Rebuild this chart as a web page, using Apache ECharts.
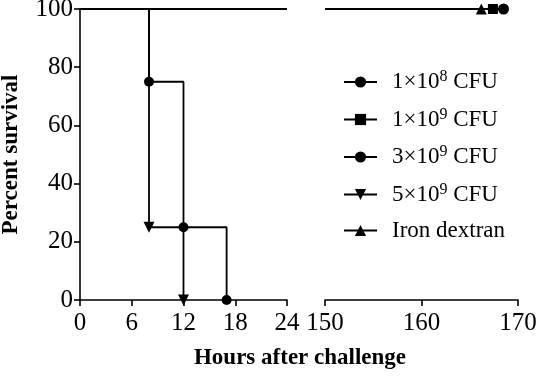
<!DOCTYPE html>
<html>
<head>
<meta charset="utf-8">
<script src="https://cdn.jsdelivr.net/npm/echarts@6/dist/echarts.min.js"></script>
<style>
  html, body { margin: 0; padding: 0; background: #fff; }
  #chart { width: 536px; height: 376px; }
</style>
</head>
<body>
<div id="chart"></div>
<script>
// survival data (hours, percent survival)
const names = ['1×10^8 CFU', '1×10^9 CFU', '3×10^9 CFU', '5×10^9 CFU', 'Iron dextran'];

const hours3e9 = [0, 8, 12, 17];
const surv3e9 = [100, 75, 25, 0];
const hours5e9 = [0, 8, 12];
const surv5e9 = [100, 25, 0];

// groups with no deaths: censored at the end of the observation
const endHours1e8 = 168.5;
const endHours1e9 = 167.4;
const endHoursIron = 166.2;

const xTicksEarly = [0, 24, 6];   // min, max, interval
const xTicksLate = [150, 170, 10];
const yTicks = [0, 100, 20];

const font = 'Liberation Serif, Times New Roman, serif';
const black = '#000';

function pts(xs, ys) {
  return xs.map((x, i) => i === 0 ? { value: [x, ys[i]], symbol: 'none' } : [x, ys[i]]);
}

function flatLine(name, grid, x0, x1, symbol, size, withMark) {
  return {
    name: name,
    type: 'line',
    xAxisIndex: grid,
    yAxisIndex: grid,
    symbol: symbol,
    symbolSize: size,
    clip: false,
    lineStyle: { color: black, width: 1.8 },
    itemStyle: { color: black },
    data: [{ value: [x0, 100], symbol: 'none' }, withMark ? [x1, 100] : { value: [x1, 100], symbol: 'none' }]
  };
}

const chart = echarts.init(document.getElementById('chart'));

const axisLabel = { color: black, fontFamily: font, fontSize: 25 };

chart.setOption({
  animation: false,
  backgroundColor: '#fff',
  grid: [
    { left: 80, top: 9, width: 207, height: 291, outerBoundsMode: 'none', containLabel: false },
    { left: 325, top: 9, width: 193, height: 291, outerBoundsMode: 'none', containLabel: false }
  ],
  xAxis: [
    {
      gridIndex: 0, type: 'value',
      min: xTicksEarly[0], max: xTicksEarly[1], interval: xTicksEarly[2],
      axisLine: { lineStyle: { color: black, width: 1.6 } },
      axisTick: { length: 6, lineStyle: { color: black, width: 1.6 } },
      splitLine: { show: false },
      axisLabel: Object.assign({ margin: 11 }, axisLabel)
    },
    {
      gridIndex: 1, type: 'value',
      min: xTicksLate[0], max: xTicksLate[1], interval: xTicksLate[2],
      axisLine: { lineStyle: { color: black, width: 1.6 } },
      axisTick: { length: 6, lineStyle: { color: black, width: 1.6 } },
      splitLine: { show: false },
      axisLabel: Object.assign({ margin: 11 }, axisLabel)
    }
  ],
  yAxis: [
    {
      gridIndex: 0, type: 'value',
      min: yTicks[0], max: yTicks[1], interval: yTicks[2],
      name: 'Percent survival',
      nameLocation: 'middle',
      nameGap: 57,
      nameTextStyle: { color: black, fontFamily: font, fontSize: 23, fontWeight: 'bold' },
      axisLine: { show: true, lineStyle: { color: black, width: 1.6 } },
      axisTick: { show: true, length: 6, lineStyle: { color: black, width: 1.6 } },
      splitLine: { show: false },
      axisLabel: Object.assign({ margin: 7 }, axisLabel)
    },
    { gridIndex: 1, type: 'value', min: 0, max: 100, show: false }
  ],
  legend: {
    data: names,
    orient: 'vertical',
    left: 338,
    top: 64,
    itemWidth: 33,
    itemHeight: 14,
    itemGap: 13,
    selectedMode: false,
    textStyle: {
      padding: [0, 0, 0, 10],
      rich: {
        t: { color: black, fontFamily: font, fontSize: 23, lineHeight: 26 },
        s: { color: black, fontFamily: font, fontSize: 16, lineHeight: 16, verticalAlign: 'top' }
      }
    },
    formatter: function (name) {
      const m = name.match(/^(.*10)\^(\d)(.*)$/);
      if (m) return '{t|' + m[1] + '}{s|' + m[2] + '}{t|' + m[3] + '}';
      return '{t|' + name + '}';
    }
  },
  graphic: [{
    type: 'text',
    x: 300,
    y: 358,
    style: {
      text: 'Hours after challenge',
      fill: black,
      font: 'bold 23px ' + font,
      textAlign: 'center',
      textVerticalAlign: 'middle'
    }
  }],
  series: [
    // groups with full survival, right panel first so legend picks the marker
    flatLine(names[4], 1, 150, endHoursIron, 'triangle', 11, true),
    flatLine(names[1], 1, 150, endHours1e9, 'rect', 10, true),
    flatLine(names[0], 1, 150, endHours1e8, 'circle', 11, true),
    flatLine(names[0], 0, 0, 24, 'circle', 11, false),
    {
      name: names[2],
      type: 'line',
      step: 'end',
      symbol: 'circle',
      symbolSize: 10,
      clip: false,
      lineStyle: { color: black, width: 1.8 },
      itemStyle: { color: black },
      data: pts(hours3e9, surv3e9)
    },
    {
      name: names[3],
      type: 'line',
      step: 'end',
      symbol: 'triangle',
      symbolRotate: 180,
      symbolSize: 11,
      clip: false,
      lineStyle: { color: black, width: 1.8 },
      itemStyle: { color: black },
      data: pts(hours5e9, surv5e9)
    }
  ]
});
</script>
</body>
</html>
